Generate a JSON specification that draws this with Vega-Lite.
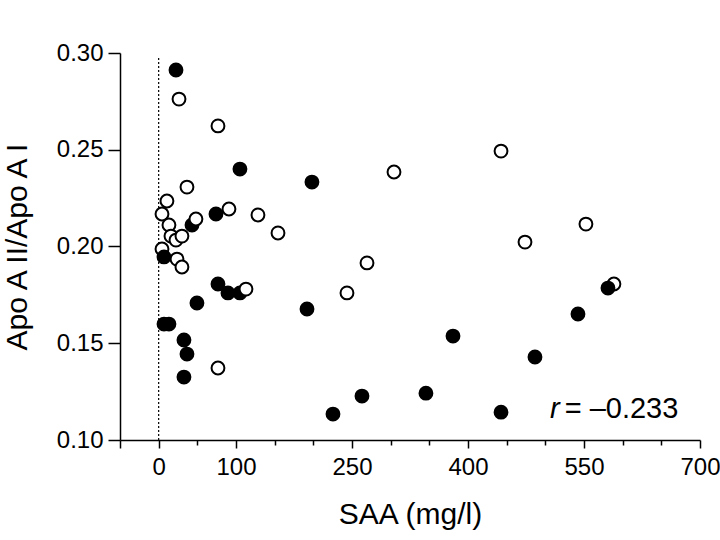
{
  "$schema": "https://vega.github.io/schema/vega-lite/v6.json",
  "width": 580,
  "height": 387,
  "autosize": {"type": "none"},
  "padding": {"left": 120, "top": 53, "right": 20, "bottom": 100},
  "background": "white",
  "config": {"view": {"stroke": null}, "font": "Liberation Sans", "axis": {"labelOverlap": false, "labelBound": false, "labelFlush": false}},
  "datasets": {
    "pts": [
      {"saa": 26.3, "ratio": 0.2762, "group": "open"},
      {"saa": 76.7, "ratio": 0.2623, "group": "open"},
      {"saa": 36.6, "ratio": 0.2307, "group": "open"},
      {"saa": 10.7, "ratio": 0.2235, "group": "open"},
      {"saa": 4.3, "ratio": 0.2168, "group": "open"},
      {"saa": 13.3, "ratio": 0.2111, "group": "open"},
      {"saa": 15.9, "ratio": 0.2054, "group": "open"},
      {"saa": 22.4, "ratio": 0.2033, "group": "open"},
      {"saa": 30.1, "ratio": 0.2054, "group": "open"},
      {"saa": 4.3, "ratio": 0.1987, "group": "open"},
      {"saa": 23.7, "ratio": 0.1935, "group": "open"},
      {"saa": 30.1, "ratio": 0.1894, "group": "open"},
      {"saa": 90.9, "ratio": 0.2194, "group": "open"},
      {"saa": 128.4, "ratio": 0.2163, "group": "open"},
      {"saa": 154.3, "ratio": 0.207, "group": "open"},
      {"saa": 76.7, "ratio": 0.1372, "group": "open"},
      {"saa": 304.3, "ratio": 0.2385, "group": "open"},
      {"saa": 442.7, "ratio": 0.2493, "group": "open"},
      {"saa": 269.4, "ratio": 0.1915, "group": "open"},
      {"saa": 243.5, "ratio": 0.176, "group": "open"},
      {"saa": 473.7, "ratio": 0.2023, "group": "open"},
      {"saa": 552.5, "ratio": 0.2116, "group": "open"},
      {"saa": 588.7, "ratio": 0.1806, "group": "open"},
      {"saa": 22.4, "ratio": 0.2912, "group": "filled"},
      {"saa": 105.1, "ratio": 0.24, "group": "filled"},
      {"saa": 198.2, "ratio": 0.2333, "group": "filled"},
      {"saa": 74.1, "ratio": 0.2168, "group": "filled"},
      {"saa": 43.1, "ratio": 0.2111, "group": "filled"},
      {"saa": 6.9, "ratio": 0.1946, "group": "filled"},
      {"saa": 6.9, "ratio": 0.1599, "group": "filled"},
      {"saa": 13.3, "ratio": 0.1599, "group": "filled"},
      {"saa": 32.7, "ratio": 0.1517, "group": "filled"},
      {"saa": 36.6, "ratio": 0.1444, "group": "filled"},
      {"saa": 32.7, "ratio": 0.1325, "group": "filled"},
      {"saa": 49.5, "ratio": 0.1708, "group": "filled"},
      {"saa": 76.7, "ratio": 0.1806, "group": "filled"},
      {"saa": 89.6, "ratio": 0.176, "group": "filled"},
      {"saa": 105.1, "ratio": 0.176, "group": "filled"},
      {"saa": 191.8, "ratio": 0.1677, "group": "filled"},
      {"saa": 225.4, "ratio": 0.1134, "group": "filled"},
      {"saa": 262.9, "ratio": 0.1227, "group": "filled"},
      {"saa": 345.6, "ratio": 0.1242, "group": "filled"},
      {"saa": 380.6, "ratio": 0.1537, "group": "filled"},
      {"saa": 442.7, "ratio": 0.1144, "group": "filled"},
      {"saa": 486.6, "ratio": 0.1429, "group": "filled"},
      {"saa": 542.2, "ratio": 0.1651, "group": "filled"},
      {"saa": 581.0, "ratio": 0.1785, "group": "filled"},
      {"saa": 48.2, "ratio": 0.2142, "group": "open"},
      {"saa": 112.9, "ratio": 0.178, "group": "open"}
    ]
  },
  "layer": [
    {
      "data": {"values": [{}]},
      "mark": {"type": "rule", "strokeDash": [2, 2], "strokeWidth": 1.2, "color": "black"},
      "encoding": {
        "x": {"datum": 0, "type": "quantitative"},
        "y": {"datum": 0.1, "type": "quantitative"},
        "y2": {"datum": 0.298}
      }
    },
    {
      "data": {"name": "pts"},
      "mark": {"type": "point", "shape": "circle", "filled": true, "size": 165, "stroke": "black", "strokeWidth": 2, "opacity": 1},
      "encoding": {
        "x": {
          "field": "saa",
          "type": "quantitative",
          "scale": {"domain": [-50, 700], "nice": false, "zero": false},
          "axis": {
            "title": "SAA (mg/l)",
            "values": [-50, 0, 50, 100, 150, 200, 250, 300, 350, 400, 450, 500, 550, 600, 650, 700],
            "tickCount": 30,
            "labelExpr": "indexof([0,100,250,400,550,700], datum.value) >= 0 ? datum.label : ''",
            "format": "d",
            "labelOverlap": false,
            "labelFlush": false,
            "labelFontSize": 24,
            "labelColor": "black",
            "labelPadding": 7,
            "tickSize": {"condition": {"test": "indexof([-50,0,100,250,400,550,700], datum.value) >= 0", "value": 8}, "value": 5},
            "tickColor": "black",
            "tickWidth": 1.5,
            "domainColor": "black",
            "domainWidth": 1.5,
            "grid": false,
            "titleFontSize": 30,
            "titleFontWeight": "normal",
            "titleColor": "black",
            "titlePadding": 20
          }
        },
        "y": {
          "field": "ratio",
          "type": "quantitative",
          "scale": {"domain": [0.1, 0.3], "nice": false, "zero": false},
          "axis": {
            "title": "Apo A II/Apo A I",
            "values": [0.1, 0.15, 0.2, 0.25, 0.3],
            "tickCount": 10,
            "format": ".2f",
            "labelOverlap": false,
            "labelFontSize": 24,
            "labelColor": "black",
            "labelPadding": 5,
            "tickSize": 12,
            "tickColor": "black",
            "tickWidth": 1.5,
            "domainColor": "black",
            "domainWidth": 1.5,
            "grid": false,
            "titleFontSize": 30,
            "titleFontWeight": "normal",
            "titleColor": "black",
            "titlePadding": 24
          }
        },
        "fill": {
          "field": "group",
          "type": "nominal",
          "scale": {"domain": ["open", "filled"], "range": ["white", "black"]},
          "legend": null
        }
      }
    },
    {
      "data": {"values": [{}]},
      "mark": {"type": "text", "text": "r", "fontStyle": "italic", "fontSize": 29, "align": "left", "baseline": "alphabetic", "color": "black"},
      "encoding": {
        "x": {"datum": 506, "type": "quantitative"},
        "y": {"datum": 0.1114, "type": "quantitative"}
      }
    },
    {
      "data": {"values": [{}]},
      "mark": {"type": "text", "text": "= \u20130.233", "fontSize": 29, "align": "left", "baseline": "alphabetic", "color": "black"},
      "encoding": {
        "x": {"datum": 525, "type": "quantitative"},
        "y": {"datum": 0.1114, "type": "quantitative"}
      }
    }
  ]
}
